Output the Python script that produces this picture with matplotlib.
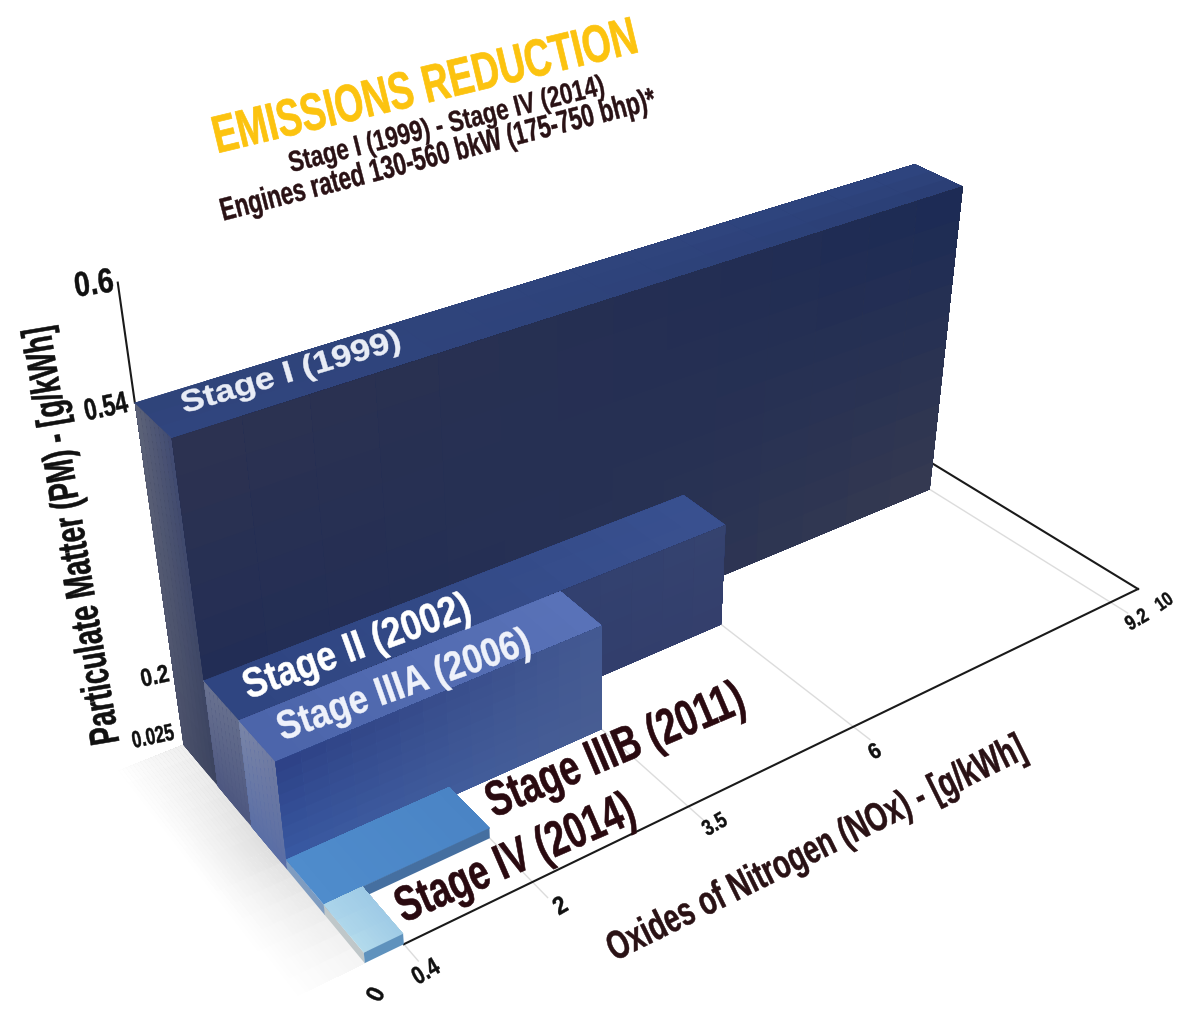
#emissions staircase drawn as 3d boxes, camera matched to the reference
import numpy as np
import matplotlib
matplotlib.use('Agg')
import matplotlib.pyplot as plt
from matplotlib.colors import to_rgb
from matplotlib.patheffects import AbstractPathEffect
from matplotlib.transforms import Affine2D
from mpl_toolkits.mplot3d.art3d import Poly3DCollection

stages = ['Stage I (1999)', 'Stage II (2002)', 'Stage IIIA (2006)', 'Stage IIIB (2011)', 'Stage IV (2014)']
nox = [9.2, 6, 3.5, 2, 0.4]
pm = [0.54, 0.2, 0.2, 0.025, 0.025]

# the axes of the original are not to scale, tick value -> drawn position
nox_ticks = [0, 0.4, 2, 3.5, 6, 9.2, 10]
nox_drawn = [0, 0.4, 1.78, 3.6, 5.73, 9.55, 10]
pm_ticks = [0, 0.025, 0.2, 0.54, 0.6]
pm_drawn = [0, 0.128, 1.303, 3.97, 5.17]
# depth of each stage slab, back to front
depth_edges = [3.685, 2.91, 2.177, 1.453, 0.73, 0]

# colours of each box: corners are bottom-left, bottom-right, top-right, top-left
front_cols = [
    ['#1b2a58', '#363a50', '#1b2a55', '#2e3350'],
    ['#2b3a6c', '#343f6c', '#35436f', '#2c3b70'],
    ['#3a5ca6', '#485d92', '#445a92', '#2c4085'],
    ['#456fa0', '#456fa0', '#456fa0', '#456fa0'],
    ['#5f92bd', '#5f92bd', '#5f92bd', '#5f92bd'],
]
top_cols = [
    ['#31467f', '#2a3e74', '#2f4580', '#2f4379'],
    ['#2f4580', '#3a5190', '#38508f', '#2e4480'],
    ['#4b65aa', '#5a72b8', '#5a72b8', '#4b65aa'],
    ['#4f8ccc', '#4a84c5', '#4a84c5', '#4f8ccc'],
    ['#b5dcec', '#9fcbe6', '#9fcbe6', '#a9d3ea'],
]
side_cols = [
    ['#3c445f', '#4a506a', '#5e6479', '#404a72'],
    ['#4d5780', '#4d5780', '#6a7391', '#646d8c'],
    ['#5a6ea5', '#5a6ea5', '#7b86a8', '#6f7aa0'],
    ['#7f9cc0', '#7f9cc0', '#7f9cc0', '#7f9cc0'],
    ['#bfc7c9', '#bfc7c9', '#bfc7c9', '#bfc7c9'],
]

plt.rcParams['font.family'] = ['Liberation Sans', 'DejaVu Sans']

fig = plt.figure(figsize=(11.79, 10.10), dpi=100)
W = 1480
ax = fig.add_axes([(590 - 0.5135 * W) / 1179, (505 - 0.5135 * W) / 1010, W / 1179, W / 1010],
                  projection='3d', computed_zorder=False)
focal = 1972 * 0.185 / W
ax.set_proj_type('persp', focal_length=focal)
ax.view_init(elev=32.5, azim=-125.17)
L = 10
ax.set_xlim(5.11 - L, 5.11 + L, view_margin=0)
ax.set_ylim(3.80 - L, 3.80 + L, view_margin=0)
ax.set_zlim(0.94 - L, 0.94 + L, view_margin=0)
# box centre sits 22 data units from the camera
side = 2 * L * (10 * focal / 22)
ax.set_box_aspect((1, 1, 1), zoom=side / (1.8294640721620434 * 25 / 24 / np.sqrt(3)))
ax.set_axis_off()
ax.patch.set_alpha(0)


def X(v):
    return np.interp(v, nox_ticks, nox_drawn)


def Z(v):
    return np.interp(v, pm_ticks, pm_drawn)


def shade(corners, cols, zorder, nu=14, nv=10):
    # nested quads, each one painted over the last, so no seams show in the blend
    p = np.array(corners, dtype=float)
    c = np.array([to_rgb(k) for k in cols])
    if len(set(cols)) == 1:
        nu = nv = 1
    us = np.linspace(0, 1, nu + 1)
    vs = np.linspace(0, 1, nv + 1)

    def mix(a, u, v):
        return (a[0] * (1 - u) * (1 - v) + a[1] * u * (1 - v) + a[2] * u * v + a[3] * (1 - u) * v)

    for i in range(nu):
        for j in range(nv):
            quad = [mix(p, us[i], vs[j]), mix(p, 1, vs[j]), mix(p, 1, 1), mix(p, us[i], 1)]
            fc = mix(c, (us[i] + us[i + 1]) / 2, (vs[j] + vs[j + 1]) / 2)
            ax.add_collection3d(Poly3DCollection([quad], facecolors=[fc], edgecolors='none', zorder=zorder))


# soft floor shadow on the left
shade([(-0.7, 0, 0), (0, 0, 0), (0, 1.8, 0), (-0.7, 1.8, 0)],
      ['#ffffff', '#f6f6f6', '#dddddd', '#ffffff'], 1, nu=18, nv=8)
shade([(-0.7, 1.8, 0), (0, 1.8, 0), (0, 3.685, 0), (-0.7, 3.685, 0)],
      ['#ffffff', '#dddddd', '#f0f0f0', '#ffffff'], 1, nu=18, nv=8)

# floor lines and grid
ax.plot([0.4, 10], [0, 0], [0, 0], color='#1a1a1a', lw=1.5, zorder=3)
ax.plot([10, 10], [0, 3.685], [0, 0], color='#1a1a1a', lw=1.5, zorder=3)
for i in range(5):
    ax.plot([X(nox[i])] * 2, [depth_edges[i + 1], -0.25], [0, 0], color='#dcdcdc', lw=1, zorder=2)
ax.plot([0, 0], [3.685, 3.685], [Z(0.54), Z(0.6)], color='#1a1a1a', lw=1.5, zorder=3)

for i in range(5):
    x1 = X(nox[i])
    z1 = Z(pm[i])
    y_back = depth_edges[i]
    y_front = depth_edges[i + 1]
    zo = 5 + i * 3
    shade([(0, y_front, 0), (0, y_back, 0), (0, y_back, z1), (0, y_front, z1)], side_cols[i], zo, nu=8, nv=16)
    shade([(0, y_front, z1), (x1, y_front, z1), (x1, y_back, z1), (0, y_back, z1)], top_cols[i], zo + 1, nv=3)
    shade([(0, y_front, 0), (x1, y_front, 0), (x1, y_front, z1), (0, y_front, z1)], front_cols[i], zo + 2)


class Tall(AbstractPathEffect):
    # stretches and thickens the glyphs, no heavy narrow font is installed
    def __init__(self, sy, bold):
        super().__init__()
        self.sy = sy
        self.bold = bold

    def draw_path(self, renderer, gc, tpath, affine, rgbFace=None):
        b = tpath.get_extents()
        cy = (b.y0 + b.y1) / 2
        t = Affine2D().translate(0, -cy).scale(1, self.sy).translate(0, cy) + affine
        gc0 = renderer.new_gc()
        gc0.copy_properties(gc)
        gc0.set_linewidth(self.bold)
        gc0.set_foreground(rgbFace, isRGBA=True)
        renderer.draw_path(gc0, tpath, t, rgbFace)
        gc0.restore()


def label(px, py, s, rot, size, sx=1.0, color='#111111', bold=0.3):
    # size is the glyph height wanted, sx how much narrower than the font it looks
    fig.text(px / 1179, 1 - py / 1010, s, rotation=rot, rotation_mode='anchor', ha='center', va='center',
             fontsize=size * sx, fontweight='bold', color=color, zorder=40, path_effects=[Tall(1 / sx, bold)])


label(425, 88, 'EMISSIONS REDUCTION', 13.5, 38, 0.70, '#fcc30f', 0.5)
label(447, 126, 'Stage I (1999) - Stage IV (2014)', 14, 21, 0.77, '#2a1215', 0.25)
label(438, 157, 'Engines rated 130-560 bkW (175-750 bhp)*', 14.5, 23, 0.70, '#2a1215', 0.3)

stage_pos = [(291, 373, 16.5, 22, 1.16, '#e8ecf5', 0.3), (357, 648, 20, 30, 0.855, '#ffffff', 0.4),
             (404, 686, 19.5, 29, 0.86, '#eef1fa', 0.3), (616, 752, 23, 36, 0.72, '#2a0a10', 0.4),
             (516, 860, 23.5, 36, 0.72, '#2a0a10', 0.4)]
for s, (px, py, rot, size, sx, c, bold) in zip(stages, stage_pos):
    label(px, py, s, rot, size, sx, c, bold)

label(74, 535, 'Particulate Matter (PM) - [g/kWh]', 99.5, 30, 0.66, '#111111', 0.35)
label(817, 850, 'Oxides of Nitrogen (NOx) - [g/kWh]', 26.3, 29, 0.695, '#2a1215', 0.35)

pm_labels = ['0.025', '0.2', '0.54', '0.6']
pm_label_pos = [(153, 737, 12, 17, 0.72), (155, 677, 12, 18, 0.82), (106, 407, 12, 22, 0.74), (94, 285, 8, 25, 0.82)]
for s, (px, py, rot, size, sx) in zip(pm_labels, pm_label_pos):
    label(px, py, s, rot, size, sx)

nox_labels = ['0', '0.4', '2', '3.5', '6', '9.2', '10']
nox_label_pos = [(377, 995, 65, 18, 0.9), (426, 972, 30, 18, 0.8), (561, 907, 30, 18, 0.9), (715, 825, 30, 16, 0.8),
                 (875, 752, 30, 16, 0.9), (1137, 620, 30, 15, 0.8), (1164, 602, 35, 14, 0.8)]
for s, (px, py, rot, size, sx) in zip(nox_labels, nox_label_pos):
    label(px, py, s, rot, size, sx)

fig.savefig('out.png', dpi=100)
